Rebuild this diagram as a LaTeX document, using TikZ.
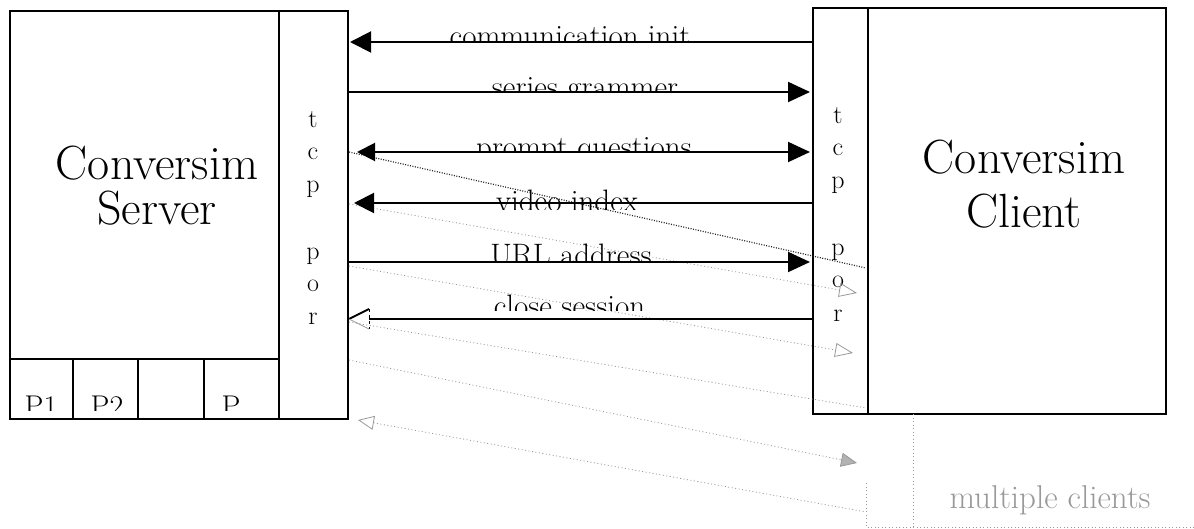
\documentclass[tikz,border=0pt]{standalone}
\usetikzlibrary{arrows.meta}
\begin{document}
\begin{tikzpicture}[x=1pt,y=-1pt,
  box/.style={draw=black, line width=2pt, inner sep=0pt},
  conn/.style={line width=2pt, draw=black},
  lbl/.style={font=\fontsize{31}{33}\selectfont, inner sep=0pt, anchor=base},
  cell/.style={font=\fontsize{30}{32}\selectfont, inner sep=0pt, anchor=base},
  title/.style={font=\fontsize{48}{45}\selectfont, align=center, inner sep=0pt, anchor=base},
  port/.style={font=\fontsize{26}{33}\selectfont, align=center, inner sep=0pt, anchor=base},
  ghost/.style={draw=black!40, line width=0.8pt, dash pattern=on 1pt off 2.5pt},
  ghostdark/.style={draw=black!85, line width=1.2pt, dash pattern=on 1pt off 1.5pt}
]
\useasboundingbox (0,0) rectangle (1194,529);

% server
\node[box, minimum width=269pt, minimum height=348pt, anchor=north west] (srvmain) at (9,10) {};
\node[box, minimum width=69pt, minimum height=408pt, anchor=north west] (tcpS) at (278,10) {};
\node[box, minimum width=63pt, minimum height=60pt, anchor=north west] (c1) at (9,358) {};
\node[box, minimum width=65pt, minimum height=60pt, anchor=north west] (c2) at (72,358) {};
\node[box, minimum width=66pt, minimum height=60pt, anchor=north west] (c3) at (137,358) {};
\node[box, minimum width=75pt, minimum height=60pt, anchor=north west] (c4) at (203,358) {};
\node[title] (srvtitle) at (157,225) {Conversim\\Server};
\node[port] (portS) at (313,325) {t\\c\\p\\[33pt]p\\o\\r};
\begin{scope}
\clip (9,358) rectangle (278,410);
\node[cell] (p1) at (41,416.5) {P1};
\node[cell] (p2) at (107,416.5) {P2};
\node[cell] (p3) at (231,416.5) {P};
\end{scope}

% client
\node[box, minimum width=54.5pt, minimum height=406pt, anchor=north west] (tcpC) at (812,7) {};
\node[box, minimum width=298.5pt, minimum height=406pt, anchor=north west] (climain) at (866.5,7) {};
\node[title, font=\fontsize{48}{54}\selectfont] (clititle) at (1024,228) {Conversim\\Client};
\node[port] (portC) at (838,321) {t\\c\\p\\[33pt]p\\o\\r};

% ghost traces
\coordinate (gA) at (866,268);
\coordinate (gB) at (857,293);
\coordinate (gC) at (853,353);
\coordinate (gD) at (866,408);
\coordinate (gE) at (857,463);
\coordinate (gF0) at (358,420);
\coordinate (gF) at (866,512);
\draw[ghostdark] (tcpS.east |- 0,152) -- (gA);
\draw[ghost, -{Triangle[open,length=18pt,width=14pt,line width=0.8pt]}] (tcpS.east |- 0,204) -- (gB);
\draw[ghost, -{Triangle[open,length=18pt,width=14pt,line width=0.8pt]}] (tcpS.east |- 0,266) -- (gC);
\draw[ghost] (tcpS.east |- 0,322) -- (gD);
\draw[ghost, -{Triangle[length=16pt,width=14pt,fill=black!30]}] (tcpS.east |- 0,360) -- (gE);
\draw[ghost, {Triangle[open,length=16pt,width=14pt,line width=0.8pt]}-] (gF0) -- (gF);
\draw[ghost] (913,414) -- (913,527);
\draw[ghost] (866,483) -- (866,527) -- (1194,527);
\node[font=\fontsize{33}{35}\selectfont, text=black!40, inner sep=0pt, anchor=base] (mclients) at (1050,508) {multiple clients};

% labels (clipped)
\begin{scope}\clip (400,0) rectangle (780,42);
\node[lbl] (l1) at (570,46.3) {communication init};\end{scope}
\begin{scope}\clip (400,60) rectangle (780,91.5);
\node[lbl] (l2) at (585,97.6) {series grammer};\end{scope}
\begin{scope}\clip (400,110) rectangle (780,151.5);
\node[lbl] (l3) at (584,157.3) {prompt questions};\end{scope}
\begin{scope}\clip (400,185) rectangle (780,210);
\node[lbl] (l4) at (567,212) {video index};\end{scope}
\begin{scope}\clip (400,225) rectangle (780,261.5);
\node[lbl] (l5) at (571,266) {URL address};\end{scope}
\begin{scope}\clip (400,280) rectangle (780,311);
\node[lbl] (l6) at (569.5,316.6) {close session};\end{scope}

% connectors
\draw[conn, -{Triangle[length=21pt,width=21pt]}, shorten >=1pt] (tcpC.west |- 0,42) -- (tcpS.east |- 0,42);
\draw[conn, -{Triangle[length=22pt,width=20pt]}, shorten >=2pt] (tcpS.east |- 0,92) -- (tcpC.west |- 0,92);
\draw[conn, {Triangle[length=18pt,width=18pt]}-{Triangle[length=22pt,width=20pt]}, shorten <=8pt, shorten >=2pt] (tcpS.east |- 0,152) -- (tcpC.west |- 0,152);
\draw[conn, -{Triangle[length=20pt,width=20pt]}, shorten >=5pt] (tcpC.west |- 0,203) -- (tcpS.east |- 0,203);
\draw[conn, -{Triangle[length=22pt,width=20pt]}, shorten >=2pt] (tcpS.east |- 0,262) -- (tcpC.west |- 0,262);
\coordinate (csTip) at (tcpS.east |- 0,319);
\draw[conn, shorten >=20pt] (tcpC.west |- 0,319) -- (csTip);
\draw[line width=2pt] (csTip) -- ++(20,-10);
\draw[line width=0.8pt, dashed] (csTip) ++(20,-10) -- ++(0,20);
\draw[draw=black!40, line width=0.8pt] (csTip) -- ++(20,10);
\end{tikzpicture}
\end{document}
